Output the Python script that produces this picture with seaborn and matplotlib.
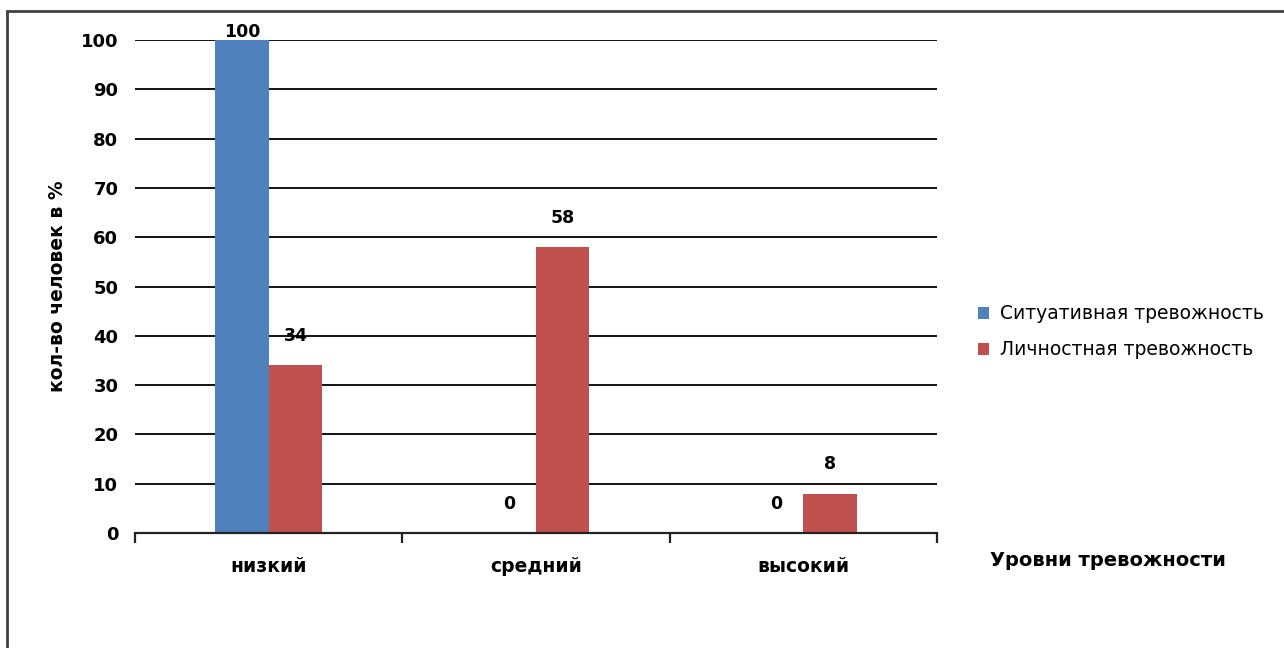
import pandas as pd
import seaborn as sns
import matplotlib.pyplot as plt
from matplotlib.patches import Rectangle

levels = ["низкий", "средний", "высокий"]
situational = [100, 0, 0]
personal = [34, 58, 8]
series_names = ["Ситуативная тревожность", "Личностная тревожность"]
colors = ["#4F81BD", "#C0504D"]

df = pd.DataFrame({
    "level": levels * 2,
    "value": situational + personal,
    "series": [series_names[0]] * 3 + [series_names[1]] * 3,
})

sns.set_theme(style="white")
plt.rcParams['font.family'] = ['DejaVu Sans']
plt.rcParams['text.color'] = 'black'
plt.rcParams['xtick.color'] = 'black'
plt.rcParams['ytick.color'] = 'black'
plt.rcParams['axes.labelcolor'] = 'black'

fig = plt.figure(figsize=(12.84, 6.48), dpi=100)
ax = fig.add_axes([135 / 1284, 1 - 533 / 648, 802 / 1284, 493 / 648])

sns.barplot(data=df, x="level", y="value", hue="series", order=levels,
            hue_order=series_names, palette=colors, width=0.4, saturation=1,
            linewidth=0, ax=ax, legend=True)

ax.set_xlim(-0.5, 2.5)
ax.set_ylim(0, 100)
ax.set_yticks(range(0, 101, 10))
ax.yaxis.grid(True, color="black", linewidth=1.3)
ax.set_axisbelow(True)
for side in ["top", "right", "left"]:
    ax.spines[side].set_visible(False)
ax.spines["bottom"].set_color("#222222")
ax.spines["bottom"].set_linewidth(1.6)

ax.set_xticks([0, 1, 2])
ax.set_xticklabels(levels, fontsize=13.5, fontweight="bold")
ax.set_xticks([-0.5, 0.5, 1.5, 2.5], minor=True)
ax.tick_params(axis="x", which="major", length=0, pad=17)
ax.tick_params(axis="x", which="minor", length=7, width=1.6, color="#222222", bottom=True)
ax.tick_params(axis="y", length=0, pad=12, labelsize=13)
for lab in ax.get_yticklabels():
    lab.set_fontweight("bold")

ax.set_xlabel("")
ax.set_ylabel("кол-во человек в %", fontsize=13.5, fontweight="bold")
ax.yaxis.set_label_coords(-0.085, 0.5)

for container in ax.containers:
    for bar in container:
        h = bar.get_height()
        x = bar.get_x() + bar.get_width() / 2
        if h >= 95:
            ax.annotate(f"{h:.0f}", (x, 100), xytext=(0, 6), textcoords="offset points",
                        ha="center", va="center", fontsize=12.5, fontweight="bold",
                        annotation_clip=False)
        else:
            ax.annotate(f"{h:.0f}", (x, h), xytext=(0, 21), textcoords="offset points",
                        ha="center", va="center", fontsize=12.5, fontweight="bold")

ax.legend(loc="center left", bbox_to_anchor=(1.03, 0.408), frameon=False,
          fontsize=13.5, handlelength=0.6, handleheight=0.6, handletextpad=0.6,
          labelspacing=0.9)

fig.text(990 / 1284, 1 - 560 / 648, "Уровни тревожности", fontsize=14,
         fontweight="bold", ha="left", va="center")

fig.patches.append(Rectangle((7 / 1284, -0.1), 1.1, 1 - 11 / 648 + 0.1,
                             transform=fig.transFigure, fill=False,
                             edgecolor="#404040", linewidth=2))

fig.savefig("out.png", dpi=100)
